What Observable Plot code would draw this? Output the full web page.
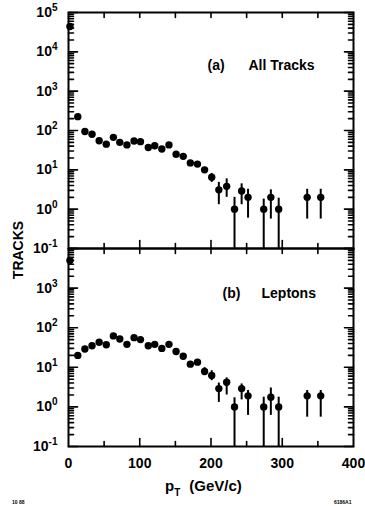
<!DOCTYPE html>
<html>
<head>
<meta charset="utf-8">
<script src="https://cdn.jsdelivr.net/npm/d3@7"></script>
<script src="https://cdn.jsdelivr.net/npm/@observablehq/plot@0.6"></script>
<style>
  html, body { margin: 0; padding: 0; background: #fff; }
  #wrap { position: relative; width: 365px; height: 506px; overflow: hidden;
          font-family: "Liberation Sans", Arial, Helvetica, sans-serif; color: #000; }
  #wrap svg { display: block; }
  #ylab { position: absolute; left: 18px; top: 250px; white-space: nowrap; line-height: 1;
          font-size: 14px; font-weight: bold; transform: translate(-50%, -50%) rotate(-90deg); }
</style>
</head>
<body>
<div id="wrap"><div id="ylab">TRACKS</div></div>
<script>
// ---- data ----
const pT = [2, 13, 23, 33, 43, 53, 63, 72, 82, 92, 101, 112, 121, 131, 141, 151, 161, 171, 181, 191,
            201, 211, 222, 233, 243, 252, 274, 284, 295, 335, 354];
const tracksAll = [44000, 225, 94, 80, 55, 45, 67, 50, 43, 54, 52, 37, 41, 34, 43, 25, 22, 15, 14, 10,
                   6.5, 3.1, 3.8, 1.0, 2.9, 2.0, 1.0, 2.0, 1.0, 2.0, 2.0];
const errAllLo = [null, null, null, null, null, null, null, null, null, null, null, null, null, null, null, null, null, null, null, null,
                  4.8, 1.3, 2.0, 0.1, 1.3, 0.59, 0.1, 0.56, 0.1, 0.56, 0.56];
const errAllHi = [null, null, null, null, null, null, null, null, null, null, null, null, null, null, null, null, null, null, null, null,
                  8.1, 4.8, 5.9, 2.0, 4.4, 3.2, 1.8, 3.1, 1.9, 3.2, 3.2];
const tracksLep = [5000, 20, 29, 35, 43, 37, 62, 52, 38, 56, 50, 35, 38, 30, 38, 25, 19, 12, 13.5, 7.8,
                   6.2, 2.9, 4.2, 1.0, 2.9, 1.9, 1.0, 1.76, 1.0, 1.9, 1.9];
const errLepLo = [null, null, null, null, null, null, null, null, null, null, null, null, null, null, null, null, null, null, null, 6.2,
                  4.6, 1.3, 2.0, 0.1, 1.5, 0.61, 0.1, 0.61, 0.1, 0.55, 0.55];
const errLepHi = [null, null, null, null, null, null, null, null, null, null, null, null, null, null, null, null, null, null, null, 9.8,
                  8.2, 4.0, 5.4, 1.7, 3.8, 2.6, 1.76, 3.0, 1.76, 2.6, 2.6];

const yLabelTicksA = [1e-1, 1, 10, 100, 1e3, 1e4, 1e5];
const yLabelTicksB = [1e-1, 1, 10, 100, 1e3];
const yMajorB = [1e-1, 1, 10, 100, 1e3, 1e4];
const xLabelTicks = [0, 100, 200, 300, 400];
const xMinorTicks = [50, 100, 150, 200, 250, 300, 350];
const xLongTicks = [100, 200, 300];
const xShortTicks = [50, 150, 250, 350];
const panelLabels = { a: ["(a)", "All Tracks"], b: ["(b)", "Leptons"] };
const xTitle = ["p", "T", "(GeV/c)"];
const figCodes = ["10 88", "6186A1"];

function minorsFor(lo, hi) {
  const out = [];
  for (let e = lo; e < hi; e++) for (let m = 2; m < 10; m++) out.push(m * Math.pow(10, e));
  return out;
}

const tickShape = { draw(ctx, l) { ctx.moveTo(0, 0); ctx.lineTo(0, -l); } };
const FONT = "Liberation Sans, Arial, Helvetica, sans-serif";

function rows(vals, lo, hi) {
  return pT.map((x, i) => ({ x, y: vals[i], lo: lo[i], hi: hi[i] }));
}

function frameTicks(major, minor) {
  const common = { stroke: "black", strokeWidth: 1.6, anchor: "start", shape: tickShape };
  return [
    Plot.vector(major, { ...common, y: d => d, frameAnchor: "left", rotate: 90, length: 9 }),
    Plot.vector(minor, { ...common, y: d => d, frameAnchor: "left", rotate: 90, length: 5 }),
    Plot.vector(major, { ...common, y: d => d, frameAnchor: "right", rotate: -90, length: 9 }),
    Plot.vector(minor, { ...common, y: d => d, frameAnchor: "right", rotate: -90, length: 5 }),
    Plot.vector(xMinorTicks, { ...common, x: d => d, frameAnchor: "top", rotate: 180, length: 5 }),
    Plot.vector(xLongTicks, { ...common, x: d => d, frameAnchor: "bottom", rotate: 0, length: 8 }),
    Plot.vector(xShortTicks, { ...common, x: d => d, frameAnchor: "bottom", rotate: 0, length: 5 })
  ];
}

function supify(svg) {
  d3.select(svg).selectAll('g[aria-label="y-axis tick label"] text').each(function () {
    const t = this.textContent;
    if (!t.includes("^")) return;
    const [b, e] = t.split("^");
    const sel = d3.select(this);
    sel.text(b);
    sel.append("tspan").attr("dy", "-0.6em").attr("font-size", "10px").text(e);
  });
}

function panel(data, yDomain, labelTicks, majorTicks, minorTicks, labels, opts) {
  const errs = data.filter(d => d.lo != null);
  return Plot.plot({
    width: 365,
    height: opts.height,
    marginLeft: 68,
    marginRight: 12,
    marginTop: opts.marginTop,
    marginBottom: opts.marginBottom,
    style: { fontFamily: FONT, fontSize: "14px", fontWeight: "bold", color: "black", background: "white", overflow: "visible" },
    x: { domain: [0, 400], axis: null },
    y: { type: "log", domain: yDomain, axis: null },
    marks: [
      Plot.axisY(labelTicks, { anchor: "left", tickSize: 0, tickPadding: 11, fontSize: 14, fontWeight: "bold", label: null,
        tickFormat: d => "10^" + Math.round(Math.log10(d)) }),
      opts.xAxis ? Plot.axisX(xLabelTicks, { anchor: "bottom", tickSize: 0, tickPadding: 12, fontSize: 14, fontWeight: "bold", label: null }) : null,
      ...frameTicks(majorTicks, minorTicks),
      Plot.ruleX(errs, { x: "x", y1: "lo", y2: "hi", stroke: "black", strokeWidth: 2 }),
      Plot.dot(data, { x: "x", y: "y", r: 3.7, fill: "black", stroke: "none" }),
      Plot.text([labels[0]], { frameAnchor: "top-left", dx: opts.lx[0], dy: opts.ly, textAnchor: "start", fontSize: 14, fontWeight: "bold" }),
      Plot.text([labels[1]], { frameAnchor: "top-left", dx: opts.lx[1], dy: opts.ly, textAnchor: "start", fontSize: 14, fontWeight: "bold" }),
      Plot.frame({ stroke: "black", strokeWidth: 2 })
    ].filter(Boolean)
  });
}

const wrap = document.getElementById("wrap");

const svgA = panel(rows(tracksAll, errAllLo, errAllHi), [0.1, 1e5], yLabelTicksA, yLabelTicksA, minorsFor(-1, 5),
  panelLabels.a, { height: 248, marginTop: 12, marginBottom: 0, lx: [139, 180], ly: 48 });
const svgB = panel(rows(tracksLep, errLepLo, errLepHi), [0.1, 1e4], yLabelTicksB, yMajorB, minorsFor(-1, 4),
  panelLabels.b, { height: 258, marginTop: 0, marginBottom: 60, lx: [154, 193], ly: 40, xAxis: true });

supify(svgA);
supify(svgB);

// x-axis title with subscript, and small figure codes
const gB = d3.select(svgB);
const tt = gB.append("text").attr("font-size", 15).attr("font-weight", "bold").attr("font-family", FONT)
  .attr("text-anchor", "start").attr("x", 165).attr("y", 243);
tt.append("tspan").text(xTitle[0]);
tt.append("tspan").attr("dy", 5).attr("font-size", 10).text(xTitle[1]);
tt.append("tspan").attr("dx", 9).attr("dy", -5).text(xTitle[2]);
gB.append("text").attr("x", 12).attr("y", 256).attr("text-anchor", "start").attr("font-size", 5)
  .attr("font-weight", "bold").attr("font-family", FONT).text(figCodes[0]);
gB.append("text").attr("x", 334).attr("y", 256).attr("text-anchor", "start").attr("font-size", 5)
  .attr("font-weight", "bold").attr("font-family", FONT).text(figCodes[1]);

wrap.appendChild(svgA);
wrap.appendChild(svgB);
</script>
</body>
</html>
